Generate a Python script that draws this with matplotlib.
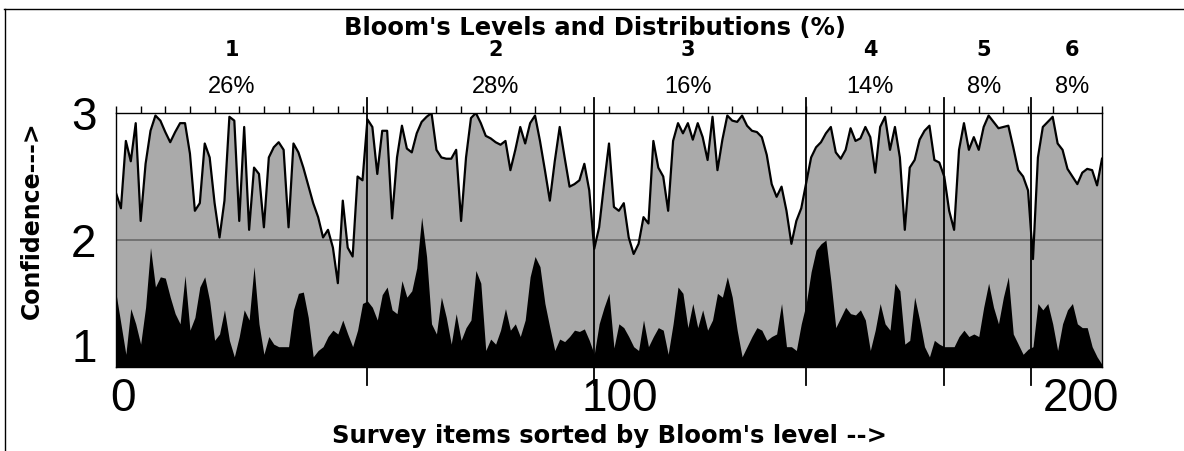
import matplotlib
matplotlib.use('Agg')
import matplotlib.pyplot as plt
import matplotlib.transforms as mtransforms
import numpy as np
from matplotlib.lines import Line2D
from matplotlib.ticker import MultipleLocator

# Upper confidence curve (gray area), one value per survey item 0..200.
UPPER = [
    2.37, 2.25, 2.78, 2.62, 2.92, 2.15, 2.60, 2.86, 2.98, 2.94,
    2.85, 2.77, 2.85, 2.92, 2.92, 2.68, 2.23, 2.29, 2.76, 2.65,
    2.29, 2.02, 2.31, 2.97, 2.94, 2.15, 2.89, 2.08, 2.57, 2.52,
    2.10, 2.65, 2.73, 2.77, 2.71, 2.10, 2.76, 2.69, 2.57, 2.43,
    2.29, 2.18, 2.02, 2.08, 1.94, 1.66, 2.31, 1.94, 1.87, 2.50,
    2.47, 2.95, 2.89, 2.52, 2.86, 2.86, 2.17, 2.65, 2.90, 2.72,
    2.69, 2.84, 2.93, 2.97, 3.00, 2.71, 2.65, 2.64, 2.64, 2.71,
    2.15, 2.65, 2.96, 3.00, 2.92, 2.82, 2.80, 2.77, 2.75, 2.78,
    2.55, 2.71, 2.89, 2.76, 2.92, 2.98, 2.78, 2.55, 2.31, 2.62,
    2.89, 2.65, 2.42, 2.44, 2.47, 2.60, 2.39, 1.93, 2.10, 2.44,
    2.76, 2.26, 2.23, 2.29, 2.02, 1.89, 1.97, 2.18, 2.13, 2.78,
    2.57, 2.50, 2.23, 2.78, 2.92, 2.84, 2.92, 2.79, 2.92, 2.81,
    2.63, 2.97, 2.55, 2.79, 2.98, 2.94, 2.93, 2.98, 2.90, 2.86,
    2.85, 2.81, 2.67, 2.44, 2.34, 2.42, 2.23, 1.97, 2.15, 2.25,
    2.45, 2.65, 2.73, 2.77, 2.84, 2.89, 2.69, 2.64, 2.71, 2.88,
    2.78, 2.80, 2.89, 2.81, 2.53, 2.89, 2.97, 2.71, 2.89, 2.65,
    2.08, 2.57, 2.63, 2.79, 2.86, 2.90, 2.63, 2.61, 2.50, 2.23,
    2.08, 2.71, 2.92, 2.71, 2.81, 2.71, 2.89, 2.98, 2.93, 2.88,
    2.89, 2.90, 2.73, 2.55, 2.50, 2.39, 1.85, 2.65, 2.89, 2.93,
    2.97, 2.76, 2.71, 2.56, 2.50, 2.44, 2.53, 2.56, 2.55, 2.43,
    2.64,
]

# Lower curve (black area).
LOWER = [
    1.58, 1.34, 1.10, 1.46, 1.34, 1.18, 1.47, 1.94, 1.63, 1.71,
    1.70, 1.55, 1.42, 1.34, 1.72, 1.29, 1.39, 1.63, 1.71, 1.52,
    1.21, 1.26, 1.45, 1.21, 1.08, 1.24, 1.45, 1.37, 1.79, 1.34,
    1.10, 1.24, 1.18, 1.16, 1.16, 1.16, 1.45, 1.58, 1.59, 1.39,
    1.08, 1.13, 1.16, 1.24, 1.29, 1.26, 1.37, 1.26, 1.16, 1.29,
    1.50, 1.52, 1.47, 1.37, 1.57, 1.63, 1.45, 1.42, 1.68, 1.55,
    1.60, 1.78, 2.18, 1.87, 1.34, 1.26, 1.55, 1.39, 1.18, 1.42,
    1.21, 1.31, 1.37, 1.76, 1.66, 1.13, 1.22, 1.18, 1.29, 1.46,
    1.29, 1.34, 1.24, 1.37, 1.71, 1.87, 1.79, 1.50, 1.31, 1.13,
    1.22, 1.20, 1.24, 1.29, 1.28, 1.30, 1.21, 1.10, 1.34, 1.47,
    1.58, 1.15, 1.34, 1.31, 1.24, 1.16, 1.13, 1.37, 1.16, 1.24,
    1.31, 1.29, 1.10, 1.34, 1.63, 1.58, 1.31, 1.50, 1.31, 1.45,
    1.29, 1.37, 1.58, 1.55, 1.71, 1.55, 1.29, 1.08, 1.16, 1.24,
    1.31, 1.29, 1.21, 1.24, 1.26, 1.50, 1.16, 1.16, 1.13, 1.34,
    1.50, 1.75, 1.92, 1.97, 2.00, 1.68, 1.31, 1.39, 1.47, 1.42,
    1.41, 1.45, 1.37, 1.13, 1.29, 1.50, 1.34, 1.29, 1.66, 1.60,
    1.18, 1.21, 1.55, 1.37, 1.16, 1.08, 1.21, 1.18, 1.16, 1.16,
    1.16, 1.24, 1.29, 1.24, 1.26, 1.24, 1.47, 1.66, 1.47, 1.34,
    1.55, 1.71, 1.26, 1.18, 1.10, 1.14, 1.16, 1.50, 1.45, 1.50,
    1.34, 1.13, 1.34, 1.45, 1.50, 1.34, 1.31, 1.31, 1.16, 1.08,
    1.02,
]

LEVELS = ['1', '2', '3', '4', '5', '6']
LEVEL_SHARES = ['26%', '28%', '16%', '14%', '8%', '8%']
LEVEL_LABEL_X = [23.5, 77, 116, 153, 176, 194]
LEVEL_BOUNDS = [51, 97, 140, 168, 185.5]
X_TICKS = [0, 100, 200]
Y_TICKS = [1, 2, 3]

W, H = 1184, 451
DIGIT_FONT = 'Liberation Sans'
BOLD_FONT = 'DejaVu Sans'


def main() -> None:
    items = np.arange(len(UPPER))

    fig = plt.figure(figsize=(W / 100, H / 100), dpi=100)
    ax = fig.add_axes([116 / W, 1 - 367 / H, (1102 - 116) / W, (367 - 113) / H])

    ax.fill_between(items, 1, UPPER, color='#aaaaaa', lw=0, zorder=1)
    ax.axhline(2, color='#6a6a6a', lw=1.2, zorder=2)
    ax.fill_between(items, 1, LOWER, color='black', lw=0, zorder=3)
    ax.plot(items, UPPER, color='black', lw=1.6, zorder=4)

    for b in LEVEL_BOUNDS:
        ax.plot([b, b], [-0.07, 1.06], transform=ax.get_xaxis_transform(),
                color='black', lw=1.3, clip_on=False, zorder=5)

    ax.set_xlim(0, 200)
    ax.set_ylim(1, 3)
    for s in ax.spines.values():
        s.set_linewidth(1.0)

    ax.set_xticks(X_TICKS)
    ax.set_xticklabels([str(t) for t in X_TICKS], family=DIGIT_FONT, fontsize=33)
    ax.xaxis.set_minor_locator(MultipleLocator(5))
    ax.tick_params(axis='x', which='both', bottom=False, top=True,
                   direction='out', length=5, width=1)
    ax.tick_params(axis='x', which='major', pad=2)
    x_shift = [7, 11, -21]
    for lab, dx in zip(ax.get_xticklabels(), x_shift):
        lab.set_transform(lab.get_transform() +
                          mtransforms.ScaledTranslation(dx / 100, 0, fig.dpi_scale_trans))

    ax.set_yticks(Y_TICKS)
    ax.set_yticklabels([str(t) for t in Y_TICKS], family=DIGIT_FONT, fontsize=33)
    ax.tick_params(axis='y', length=0, pad=14)
    y_shift = [22, 0, 0]
    for lab, dy in zip(ax.get_yticklabels(), y_shift):
        lab.set_transform(lab.get_transform() +
                          mtransforms.ScaledTranslation(0, dy / 100, fig.dpi_scale_trans))

    ax.set_ylabel('Confidence--->', family=BOLD_FONT, fontweight='bold', fontsize=17)
    ax.yaxis.set_label_coords(-0.073, 0.58)
    ax.set_xlabel("Survey items sorted by Bloom's level -->", family=BOLD_FONT,
                  fontweight='bold', fontsize=17.5, labelpad=2)

    trans = ax.get_xaxis_transform()
    for x, lev, share in zip(LEVEL_LABEL_X, LEVELS, LEVEL_SHARES):
        ax.text(x, 1.25, lev, transform=trans, ha='center', va='center',
                family=BOLD_FONT, fontweight='bold', fontsize=15)
        ax.text(x, 1.104, share, transform=trans, ha='center', va='center',
                family=DIGIT_FONT, fontsize=17)

    fig.text(595 / W, 1 - 28 / H, "Bloom's Levels and Distributions (%)",
             ha='center', va='center', family=BOLD_FONT, fontweight='bold', fontsize=17.5)

    # outer frame of the picture (top and left edges only)
    fig.add_artist(Line2D([4 / W, 1], [1 - 9 / H, 1 - 9 / H], transform=fig.transFigure,
                          color='black', lw=1))
    fig.add_artist(Line2D([5 / W, 5 / W], [0, 1 - 9 / H], transform=fig.transFigure,
                          color='black', lw=1))

    fig.savefig('out.png', dpi=100)


if __name__ == '__main__':
    main()
